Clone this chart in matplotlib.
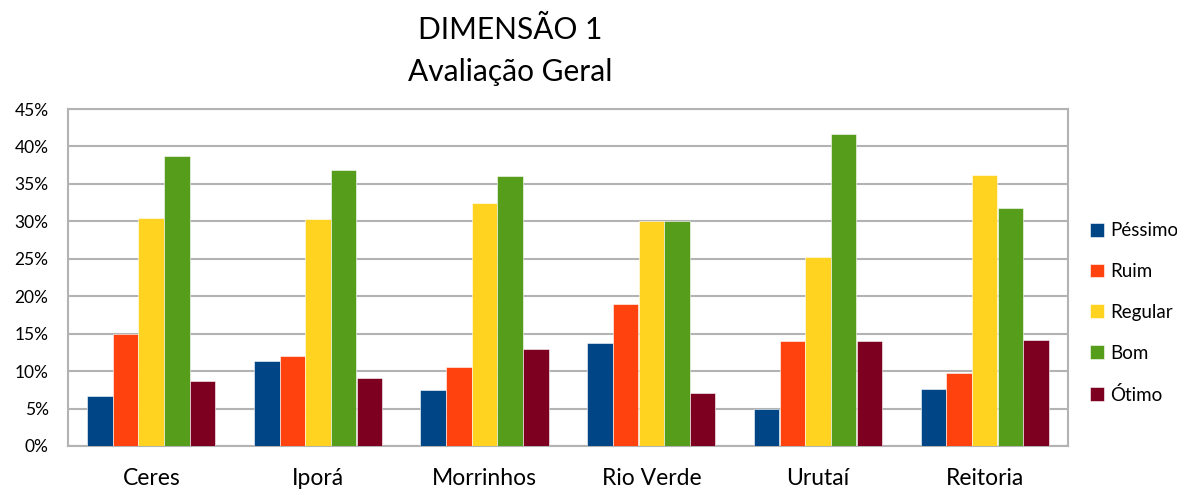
import numpy as np
from matplotlib import pyplot as plt

plt.rcParams['font.family'] = ['Lato', 'DejaVu Sans']

campi = ['Ceres', 'Iporá', 'Morrinhos', 'Rio Verde', 'Urutaí', 'Reitoria']
labels = ['Péssimo', 'Ruim', 'Regular', 'Bom', 'Ótimo']
pessimo = [6.7, 11.4, 7.5, 13.7, 4.9, 7.6]
ruim = [15.0, 12.0, 10.6, 19.0, 14.0, 9.8]
regular = [30.5, 30.3, 32.5, 30.0, 25.3, 36.2]
bom = [38.7, 36.8, 36.1, 30.0, 41.6, 31.8]
otimo = [8.7, 9.1, 12.9, 7.05, 14.0, 14.2]
colors = ['#004586', '#ff420e', '#ffd320', '#579d1c', '#7e0021']

series = [pessimo, ruim, regular, bom, otimo]

fig = plt.figure(figsize=(11.77, 4.92), dpi=100)
ax = fig.add_axes([68/1177, 1 - 446/492, 1000/1177, 337/492])

x = np.arange(len(campi))
w = 0.154
for i in range(5):
    ax.bar(x + (i - 2)*w, series[i], w, color=colors[i], label=labels[i],
           edgecolor='white', linewidth=0.4, zorder=3)

ax.set_xlim(-0.5, len(campi) - 0.5)
ax.set_ylim(0, 45)
ax.set_yticks(np.arange(0, 46, 5))
ax.set_yticklabels(['%d%%' % v for v in range(0, 46, 5)], fontsize=12.5)
ax.set_xticks(x)
ax.set_xticklabels(campi, fontsize=16.5)
ax.tick_params(length=0)
ax.tick_params(axis='y', pad=14)
ax.tick_params(axis='x', pad=16)
ax.grid(axis='y', color='#b3b3b3', linewidth=1.5, zorder=0)
for s in ax.spines.values():
    s.set_color('#b3b3b3')
    s.set_linewidth(1.5)

ax.legend(loc='center left', bbox_to_anchor=(1.005, 0.395), frameon=False,
          fontsize=13.5, handlelength=0.75, handleheight=0.75, handletextpad=0.35,
          labelspacing=1.27)

fig.text(510/1177, 1 - 30/492, 'DIMENSÃO 1', ha='center', va='center', fontsize=21.5)
fig.text(510/1177, 1 - 72/492, 'Avaliação Geral', ha='center', va='center', fontsize=21.5)

fig.savefig('out.png', dpi=100)
